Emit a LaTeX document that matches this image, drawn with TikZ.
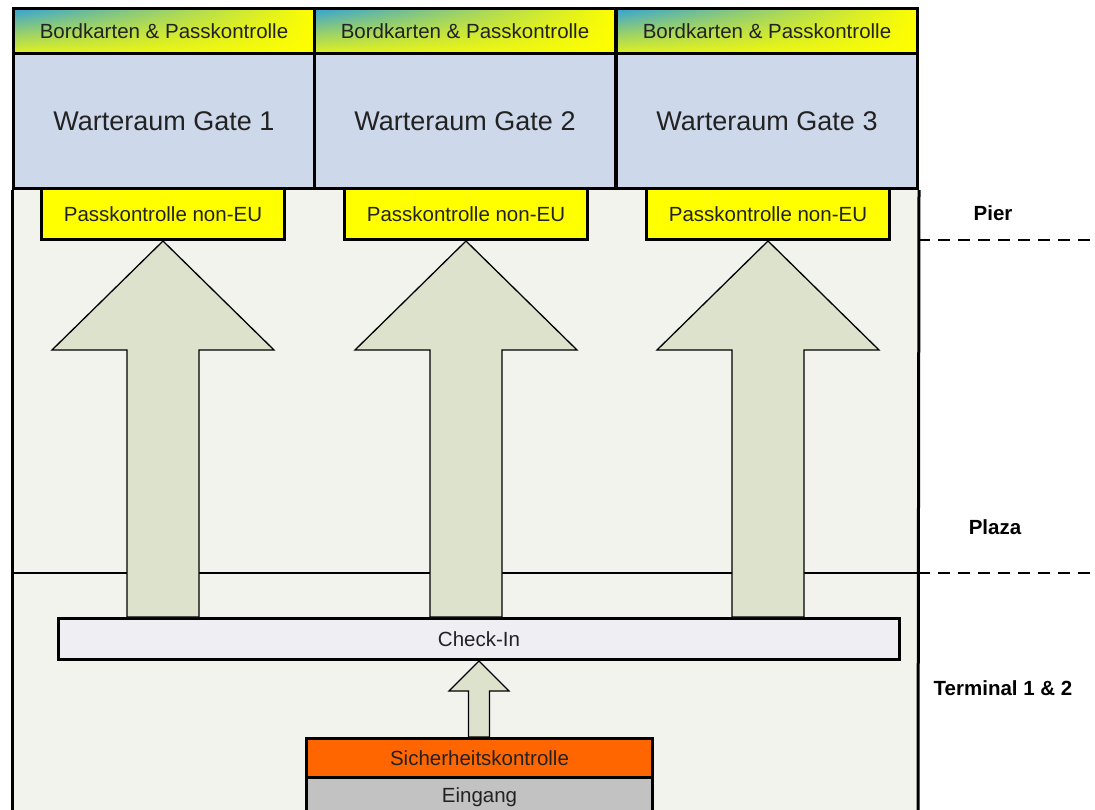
\documentclass[tikz,border=0pt]{standalone}
\usepackage{fontspec}
\setmainfont{Liberation Sans}
\usetikzlibrary{calc,fadings}
\definecolor{bgc}{HTML}{F3F3EE}
\definecolor{wartec}{HTML}{CDD8EA}
\definecolor{arrowc}{HTML}{DCE2CC}
\definecolor{checkc}{HTML}{EFEFF3}
\definecolor{orangec}{HTML}{FF6600}
\definecolor{grayc}{HTML}{C2C2C2}
\definecolor{yellowc}{HTML}{FFFF00}
\definecolor{tealc}{HTML}{33A2D8}
\definecolor{txtc}{HTML}{222222}
\begin{document}
\begin{tikzpicture}[x=1pt,y=-1pt,
  room/.style={draw=black,line width=3pt,inner sep=0pt,anchor=north west,text=txtc,
    font=\fontsize{20.5}{24}\selectfont},
  band/.style={room,minimum width=301pt,minimum height=45pt,
    preaction={fill=yellowc},
    preaction={shade,top color=tealc,bottom color=yellowc!85!tealc,middle color=yellowc!45!tealc,path fading=east}},
  warte/.style={room,fill=wartec,minimum width=301pt,minimum height=135pt,
    font=\fontsize{27}{30}\selectfont},
  pass/.style={room,fill=yellowc,minimum width=243pt,minimum height=51pt},
  bigarrow/.style={draw=black,line width=1.3pt,fill=arrowc,line join=miter},
  sepline/.style={draw=black,line width=1.6pt,dash pattern=on 12pt off 8pt},
  framel/.style={draw=black,line width=3pt},
  zone/.style={font=\bfseries\fontsize{20.5}{24}\selectfont,text=black}]
\useasboundingbox (0,0) rectangle (1095,809);
\fill[white] (0,0) rectangle (1095,809);
\fill[bgc] (12,187) rectangle (918,812);

% top bands
\node[band] (b1) at (12,7) {Bordkarten \& Passkontrolle};
\node[band] (b2) at (313,7) {Bordkarten \& Passkontrolle};
\node[band] (b3) at (615,7) {Bordkarten \& Passkontrolle};
% waiting rooms
\node[warte] (w1) at (12,52) {Warteraum Gate 1};
\node[warte] (w2) at (313,52) {Warteraum Gate 2};
\node[warte] (w3) at (615,52) {Warteraum Gate 3};

% frame
\coordinate (fl) at (12,812);
\coordinate (fr) at (918,812);
\draw[framel] (w1.south west) -- (fl);
\draw[framel] (w3.south east) -- (fr);
\coordinate (pl) at (12,573);
\coordinate (pr) at (918,573);
\draw[line width=2.5pt] (pl) -- (pr);

% zone separators
\coordinate (pe) at (918,240);
\coordinate (pe2) at (1095,240);
\coordinate (pz2) at (1095,573);
\draw[sepline] (pe) -- (pe2);
\draw[sepline] (pr) -- (pz2);

% passport control
\node[pass] (p1) at (40,187) {Passkontrolle non-EU};
\node[pass] (p2) at (343,187) {Passkontrolle non-EU};
\node[pass] (p3) at (645,187) {Passkontrolle non-EU};

% check-in, security, entrance
\node[room,fill=checkc,minimum width=841pt,minimum height=41pt] (ci) at (57,617) {Check-In};
\node[room,fill=orangec,minimum width=346pt,minimum height=39pt] (sk) at (305,737) {Sicherheitskontrolle};
\node[room,fill=grayc,minimum width=346pt,minimum height=40pt] (ein) at (305,776) {Eingang};

% big arrows
\foreach \nd in {p1,p2,p3}{
  \draw[bigarrow] let \p1=(\nd.south), \p2=(ci.north) in
    (\x1,\y1) -- (\x1+111pt,\y1-109pt) -- (\x1+36pt,\y1-109pt) -- (\x1+36pt,\y2)
    -- (\x1-36pt,\y2) -- (\x1-36pt,\y1-109pt) -- (\x1-111pt,\y1-109pt) -- cycle;
}
% small arrow
\draw[bigarrow] let \p1=(ci.south), \p2=(sk.north) in
  (\x1,\y1) -- (\x1+30pt,\y1-30pt) -- (\x1+10.5pt,\y1-30pt) -- (\x1+10.5pt,\y2)
  -- (\x1-10.5pt,\y2) -- (\x1-10.5pt,\y1-30pt) -- (\x1-30pt,\y1-30pt) -- cycle;

% zone labels
\node[zone] (pier) at (993,213) {Pier};
\node[zone] (plaza) at (995,527) {Plaza};
\node[zone] (term) at (1003,688) {Terminal 1 \& 2};
\end{tikzpicture}
\end{document}
